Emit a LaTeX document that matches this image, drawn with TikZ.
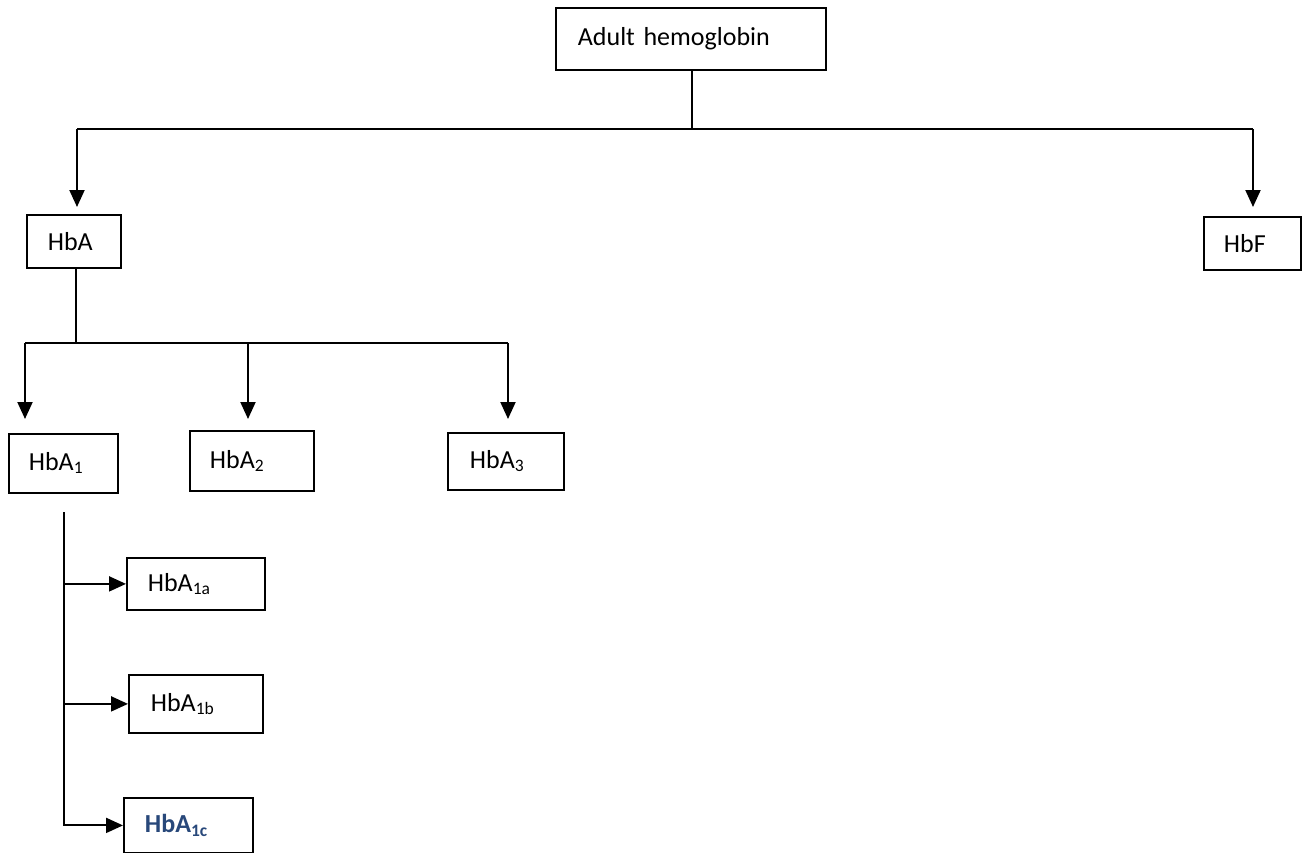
\documentclass[tikz,border=0pt]{standalone}
\usepackage{fontspec}
\setmainfont{Carlito}
\usetikzlibrary{arrows.meta}
\definecolor{hbblue}{RGB}{40,72,122}
\newcommand\sbs[1]{\raisebox{-0.12em}{\fontsize{17.5}{17.5}\selectfont #1}}
\begin{document}
\begin{tikzpicture}[x=1pt,y=-1pt,
  box/.style={draw, line width=1.8pt, anchor=north west, align=left, inner ysep=0pt,
    font=\fontsize{26}{30}\selectfont},
  conn/.style={line width=2pt},
  arr/.style={line width=2pt, -{Triangle[length=17pt,width=15pt]}}]
\useasboundingbox (0,0) rectangle (1302,852);
% boxes: NW corner, width, height, left padding
\node[box, inner xsep=22pt, text width=226pt, minimum height=62pt] (top) at (555,7) {Adult hemoglobin};
\node[box, inner xsep=21pt, text width=52pt, minimum height=53pt] (hba) at (26,214) {HbA};
\node[box, inner xsep=20pt, text width=57pt, minimum height=53pt] (hbf) at (1203,216) {HbF};
\node[box, inner xsep=20pt, text width=69pt, minimum height=59pt] (hba1) at (8,433) {HbA\sbs{1}};
\node[box, inner xsep=20pt, text width=84pt, minimum height=60pt] (hba2) at (189,430) {HbA\sbs{2}};
\node[box, inner xsep=22pt, text width=72pt, minimum height=57pt] (hba3) at (447,432) {HbA\sbs{3}};
\node[box, inner xsep=21pt, text width=96pt, minimum height=52pt] (hba1a) at (126,557) {HbA\sbs{1a}};
\node[box, inner xsep=22pt, text width=90pt, minimum height=58pt] (hba1b) at (128,674) {HbA\sbs{1b}};
\node[box, inner xsep=21pt, text width=87pt, minimum height=55pt, text=hbblue] (hba1c) at (123,797) {\bfseries HbA\sbs{1c}};
% level 1
\coordinate (j1) at (692,129);
\coordinate (l1) at (77,129);
\coordinate (r1) at (1253,129);
\draw[conn] (j1 |- top.south) -- (j1);
\draw[conn] (l1) -- (r1);
\draw[arr, shorten >=7pt] (l1) -- (l1 |- hba.north);
\draw[arr, shorten >=9pt] (r1) -- (r1 |- hbf.north);
% level 2
\coordinate (j2) at (76,343);
\coordinate (b1) at (25,343);
\coordinate (b2) at (248,343);
\coordinate (b3) at (508,343);
\draw[conn] (j2 |- hba.south) -- (j2);
\draw[conn] (b1) -- (b3);
\draw[arr, shorten >=14pt] (b1) -- (b1 |- hba1.north);
\draw[arr, shorten >=11pt] (b2) -- (b2 |- hba2.north);
\draw[arr, shorten >=13pt] (b3) -- (b3 |- hba3.north);
% level 3
\coordinate (v0) at (64,512);
\draw[conn] (v0) -- (v0 |- hba1c.west);
\draw[arr] (v0 |- hba1a.west) -- (hba1a.west);
\draw[arr] (v0 |- hba1b.west) -- (hba1b.west);
\draw[arr] ([xshift=-1pt]v0 |- hba1c.west) -- (hba1c.west);
\end{tikzpicture}
\end{document}
